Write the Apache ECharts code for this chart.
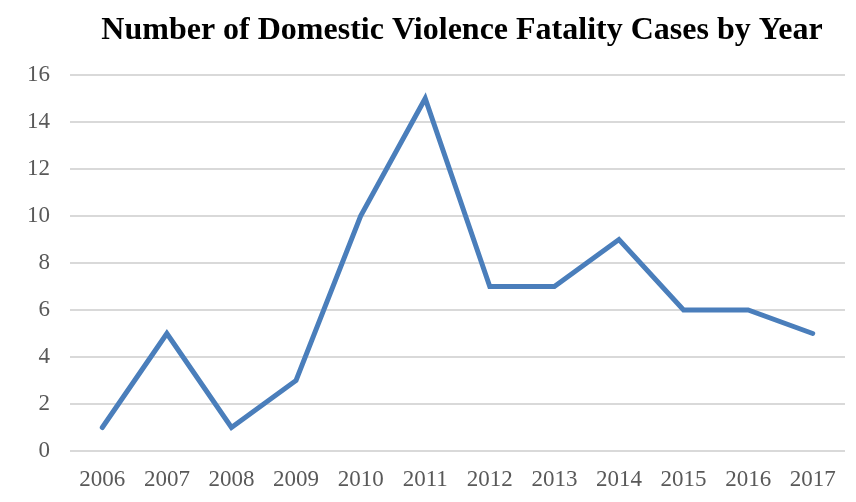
<!DOCTYPE html>
<html>
<head>
<meta charset="utf-8">
<script src="https://cdn.jsdelivr.net/npm/echarts@6/dist/echarts.min.js"></script>
<style>
html, body { margin: 0; padding: 0; background: #fff; }
#container { width: 856px; height: 502px; }
</style>
</head>
<body>
<div id="container"></div>
<script>
// years and case counts
var years = ['2006', '2007', '2008', '2009', '2010', '2011', '2012', '2013', '2014', '2015', '2016', '2017'];
var cases = [1, 5, 1, 3, 10, 15, 7, 7, 9, 6, 6, 5];
var titleText = 'Number of Domestic Violence Fatality Cases by Year';

var dom = document.getElementById('container');
var myChart = echarts.init(dom, null, { renderer: 'canvas' });

var option = {
    backgroundColor: '#fff',
    animation: false,
    title: {
        text: titleText,
        left: 457,
        textAlign: 'center',
        top: 10,
        textStyle: {
            fontFamily: 'Liberation Serif',
            fontWeight: 'bold',
            fontSize: 32,
            color: '#000'
        }
    },
    grid: { left: 70, right: 11, top: 75, bottom: 51 },
    xAxis: {
        type: 'category',
        data: years,
        boundaryGap: true,
        axisLine: { show: false },
        axisTick: { show: false },
        axisLabel: {
            margin: 17,
            fontFamily: 'Liberation Serif',
            fontSize: 23,
            color: '#595959'
        }
    },
    yAxis: {
        type: 'value',
        min: 0,
        max: 16,
        interval: 2,
        axisLine: { show: false },
        axisTick: { show: false },
        axisLabel: {
            margin: 20,
            fontFamily: 'Liberation Serif',
            fontSize: 23,
            color: '#595959'
        },
        splitLine: { lineStyle: { color: '#d9d9d9', width: 2 } }
    },
    series: [
        {
            type: 'line',
            data: cases,
            symbol: 'none',
            lineStyle: { color: '#4a7ebb', width: 5, cap: 'round', join: 'miter' }
        }
    ]
};

myChart.setOption(option);
window.addEventListener('resize', myChart.resize);
</script>
</body>
</html>
